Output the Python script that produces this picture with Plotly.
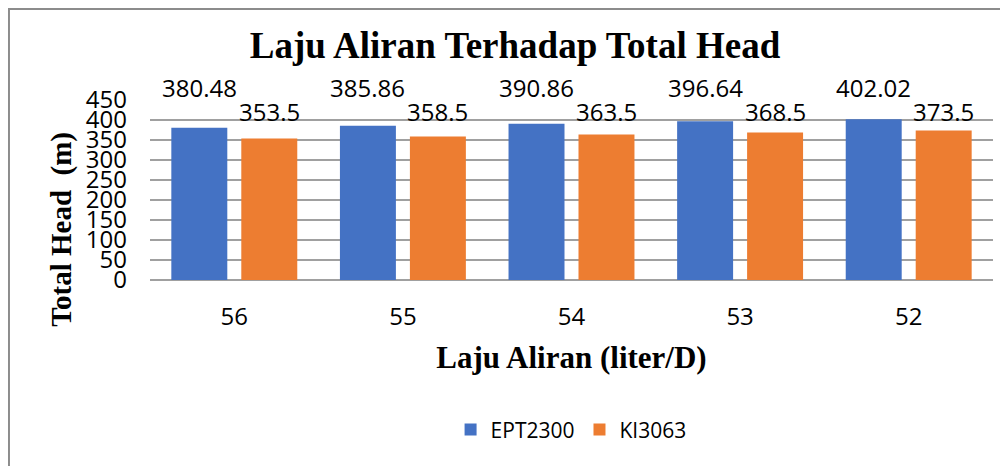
import plotly.graph_objects as go

# data
flow = ['56', '55', '54', '53', '52']
ept2300 = [380.48, 385.86, 390.86, 396.64, 402.02]
ki3063 = [353.5, 358.5, 363.5, 368.5, 373.5]
y_ticks = [0, 50, 100, 150, 200, 250, 300, 350, 400, 450]

serif = 'Liberation Serif'
sans = 'Open Sans'

fig = go.Figure()
fig.add_trace(go.Bar(x=flow, y=ept2300, name='EPT2300', marker=dict(color='#4472C4', line=dict(width=0))))
fig.add_trace(go.Bar(x=flow, y=ki3063, name='KI3063', marker=dict(color='#ED7D31', line=dict(width=0))))

# data labels (placed by hand in the original, one row per series)
for i, v in enumerate(ept2300):
    fig.add_annotation(x=i, y=1.067, yref='paper', xshift=-35, text=f'{v:g}', showarrow=False,
                       font=dict(family=sans, size=24, color='black'), yanchor='middle')
for i, v in enumerate(ki3063):
    fig.add_annotation(x=i, y=0.935, yref='paper', xshift=35, text=f'{v:g}', showarrow=False,
                       font=dict(family=sans, size=24, color='black'), yanchor='middle')

# y axis title sits a bit below the middle of the plot in the original
fig.add_annotation(x=-0.1044, y=0.285, xref='paper', yref='paper', textangle=-90,
                   text='<b>Total Head\u00a0\u00a0(m)</b>', showarrow=False,
                   font=dict(family=serif, size=29, color='black'), xanchor='center', yanchor='middle')

# chart area border
fig.add_shape(type='rect', xref='paper', yref='paper', x0=-0.1673, x1=1.0154, y0=-1.06, y1=1.505,
              line=dict(color='#8c8c8c', width=2), fillcolor='rgba(0,0,0,0)', layer='below')

fig.update_layout(
    width=1000,
    height=458,
    margin=dict(l=142, r=15, t=92, b=186),
    plot_bgcolor='white',
    paper_bgcolor='white',
    barmode='group',
    bargap=0.17,
    bargroupgap=0.2,
    title=dict(text='<b>Laju Aliran Terhadap Total Head</b>', x=0.507, xanchor='center',
               y=0.919, yanchor='middle', font=dict(family=serif, size=37, color='black')),
    xaxis=dict(
        type='category',
        range=[-0.5, 4.5],
        showgrid=False,
        showline=False,
        ticks='',
        ticklabelstandoff=20,
        tickfont=dict(family=sans, size=24, color='black'),
        title=dict(text='<b>Laju Aliran (liter/D)</b>', font=dict(family=serif, size=31, color='black'),
                   standoff=15),
    ),
    yaxis=dict(
        range=[0, 450],
        tickvals=y_ticks,
        showgrid=True,
        gridcolor='#a0a0a0',
        gridwidth=1.5,
        zeroline=True,
        zerolinecolor='#a0a0a0',
        zerolinewidth=1.5,
        ticks='',
        ticklabelstandoff=22,
        tickfont=dict(family=sans, size=24, color='black'),
    ),
    legend=dict(
        orientation='h',
        x=0.4995, xanchor='center',
        y=-0.833, yanchor='middle',
        font=dict(family=sans, size=21, color='black'),
        itemwidth=30,
        tracegroupgap=0,
    ),
)

fig.write_html('out.html')
